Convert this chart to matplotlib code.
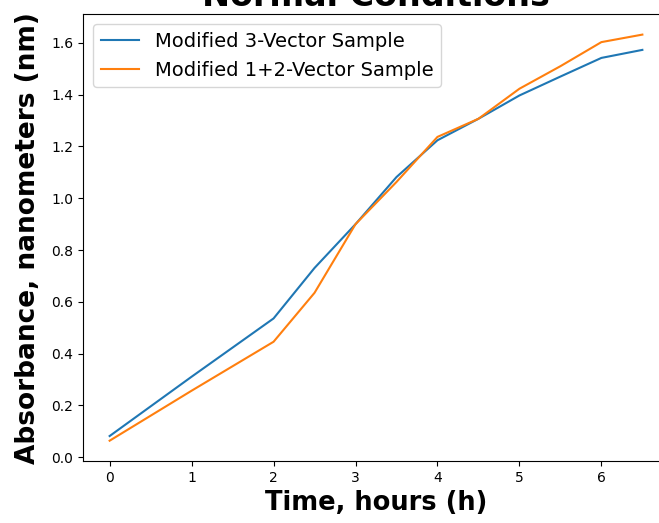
import matplotlib
matplotlib.use("Agg")
import matplotlib.pyplot as plt

time_h = [0, 1, 2, 2.5, 3, 3.5, 4, 4.5, 5, 5.5, 6, 6.5]
vec3 = [0.082, 0.311, 0.536, 0.731, 0.900, 1.082, 1.224, 1.307, 1.397, 1.470, 1.542, 1.573]
vec12 = [0.064, 0.257, 0.446, 0.635, 0.900, 1.063, 1.237, 1.307, 1.423, 1.510, 1.603, 1.632]
series_labels = ["Modified 3-Vector Sample", "Modified 1+2-Vector Sample"]

fig = plt.figure(figsize=(6.59, 5.23), dpi=100)
W, H = 659, 523
left, right, top, bottom = 83, 669, 14.3, 461
ax = fig.add_axes([left / W, (H - bottom) / H, (right - left) / W, (bottom - top) / H])
ax.plot(time_h, vec3, label=series_labels[0])
ax.plot(time_h, vec12, label=series_labels[1])
ax.set_title("Normal Conditions", fontsize=24, fontweight="bold")
ax.set_xlabel("Time, hours (h)", fontsize=18.5, fontweight="bold")
ax.set_ylabel("Absorbance, nanometers (nm)", fontsize=19, fontweight="bold", labelpad=7)
ax.legend(fontsize=14, loc="upper left")
fig.savefig("out.png", dpi=100)
